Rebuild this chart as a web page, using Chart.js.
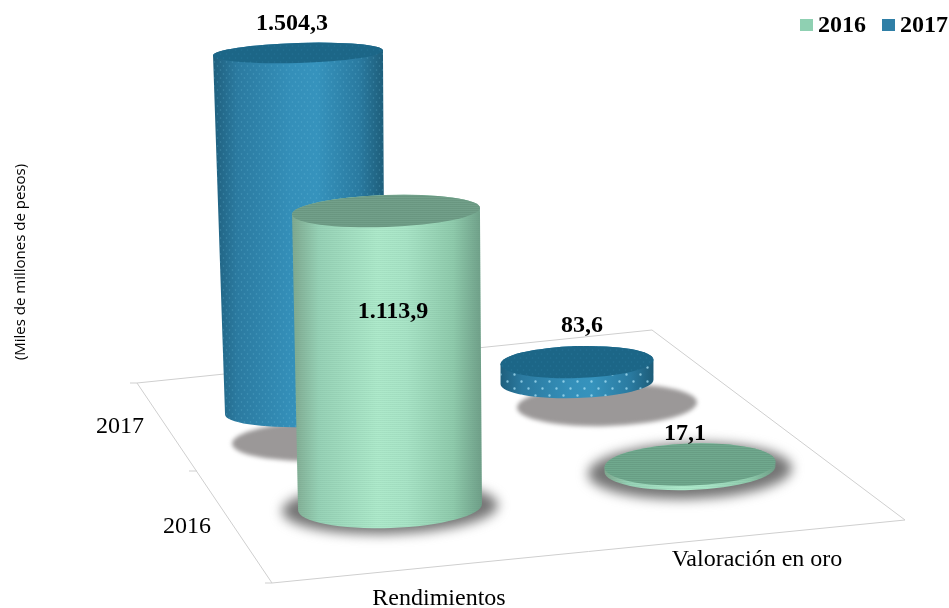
<!DOCTYPE html>
<html lang="es">
<head>
<meta charset="utf-8">
<title>Rendimientos y valoración en oro</title>
<script src="https://cdn.jsdelivr.net/npm/chart.js@4"></script>
<style>
  html, body { margin: 0; padding: 0; background: #fff; }
  canvas { display: block; }
</style>
</head>
<body>
<canvas id="myChart" width="949" height="608"></canvas>
<script>
'use strict';

let categories = ['Rendimientos', 'Valoración en oro'];
let seriesNames = ['2016', '2017'];
let values2016 = [1113.9, 17.1];
let values2017 = [1504.3, 83.6];
let depthLabels = ['2017', '2016'];
let axisTitle = '(Miles de millones de pesos)';

const WIDTH = 949;
const HEIGHT = 608;
const SERIF = '"Liberation Serif", "Times New Roman", serif';

// the floor is seen in perspective, so each series gets its own x and y axis
// originX/originY = pixel of category 0 / value 0, step = pixels per category, perUnit = pixels per unit
const view2016 = { originX: 390, step: 300, originY: 507, perUnit: 0.2657, floorTilt: -38 };
const view2017 = { originX: 305, step: 272, originY: 412, perUnit: 0.2387, floorTilt: -30 };

// cylinder shapes, one per category
const shapes2016 = [
  { rxTop: 94, rxBase: 92, ryTop: 16, ryBase: 21, lean: -4, rot: -0.035, labelX: 7, labelY: 99 },
  { rxTop: 85.5, rxBase: 85.5, ryTop: 21, ryBase: 21, lean: 0, rot: -0.035, labelX: -5, labelY: -32 }
];
const shapes2017 = [
  { rxTop: 85, rxBase: 80, ryTop: 10, ryBase: 15, lean: -7, rot: -0.03, labelX: -6, labelY: -31 },
  { rxTop: 76.5, rxBase: 76.5, ryTop: 16, ryBase: 16, lean: 0, rot: -0.03, labelX: 5, labelY: -38 }
];
const shadows2016 = [
  { dx: 0, dy: 1, rx: 108, ry: 26, color: '#757575', blur: 6 },
  { dx: 0, dy: 2, rx: 102, ry: 28, color: '#757575', blur: 6 }
];
const shadows2017 = [
  { dx: 17, dy: 29, rx: 90, ry: 20, color: '#9b9898', blur: 2 },
  { dx: 30, dy: 23, rx: 90, ry: 21, color: '#9b9898', blur: 2 }
];

const blueSide = ['#1f5f7d', '#2b7aa0', '#348fb9', '#3693bd', '#2a7aa0', '#1d5c78'];
const greenSide = ['#7fa88f', '#97d2b6', '#aeeacb', '#a9e5c7', '#8fcbac', '#6f9f88'];

function axisRange(origin, perPx, size) {
  return { min: -origin / perPx, max: (size - origin) / perPx };
}

function yAxis(view) {
  return {
    type: 'linear',
    display: false,
    min: -(HEIGHT - view.originY) / view.perUnit,
    max: view.originY / view.perUnit
  };
}

function xAxis(view) {
  let range = axisRange(view.originX, view.step, WIDTH);
  return { type: 'linear', display: false, offset: false, min: range.min, max: range.max };
}

function dotPattern(ctx, spaceX, spaceY, radius, color) {
  let tile = document.createElement('canvas');
  tile.width = spaceX;
  tile.height = spaceY * 2;
  let t = tile.getContext('2d');
  t.fillStyle = color;
  t.beginPath();
  t.arc(spaceX / 4, spaceY / 2, radius, 0, Math.PI * 2);
  t.arc(spaceX * 3 / 4, spaceY * 1.5, radius, 0, Math.PI * 2);
  t.fill();
  return ctx.createPattern(tile, 'repeat');
}

function linePattern(ctx, color) {
  let tile = document.createElement('canvas');
  tile.width = 4;
  tile.height = 2;
  let t = tile.getContext('2d');
  t.fillStyle = color;
  t.fillRect(0, 0, 4, 1);
  return ctx.createPattern(tile, 'repeat');
}

function drawCylinder(ctx, el, shape, floorShift, look) {
  let baseX = el.x;
  let baseY = el.base + floorShift;
  let topX = el.x + shape.lean;
  let topY = el.y + floorShift;
  let left = Math.min(baseX - shape.rxBase, topX - shape.rxTop);
  let right = Math.max(baseX + shape.rxBase, topX + shape.rxTop);

  let grad = ctx.createLinearGradient(left, 0, right, 0);
  let stops = [0, 0.14, 0.45, 0.6, 0.85, 1];
  stops.forEach((stop, i) => grad.addColorStop(stop, look.side[i]));

  ctx.beginPath();
  ctx.ellipse(baseX, baseY, shape.rxBase, shape.ryBase, shape.rot, Math.PI, 0, true);
  ctx.ellipse(topX, topY, shape.rxTop, shape.ryTop, shape.rot, 0, Math.PI, true);
  ctx.closePath();
  ctx.fillStyle = grad;
  ctx.fill();
  ctx.fillStyle = look.sidePattern;
  ctx.fill();

  ctx.beginPath();
  ctx.ellipse(topX, topY, shape.rxTop, shape.ryTop, shape.rot, 0, Math.PI * 2);
  ctx.fillStyle = look.top;
  ctx.fill();
  ctx.fillStyle = look.topPattern;
  ctx.fill();
}

function lookFor(ctx, datasetIndex, index) {
  if (datasetIndex === 0) {
    return {
      side: greenSide,
      top: index === 0 ? '#72a08a' : '#70a98e',
      sidePattern: linePattern(ctx, 'rgba(90, 140, 115, 0.10)'),
      topPattern: linePattern(ctx, 'rgba(60, 100, 80, 0.16)')
    };
  }
  return {
    side: blueSide,
    top: '#1c6687',
    sidePattern: index === 0 ? dotPattern(ctx, 6, 4, 0.8, 'rgba(130, 205, 235, 0.28)') : dotPattern(ctx, 14, 7, 1.2, 'rgba(170, 225, 245, 0.75)'),
    topPattern: dotPattern(ctx, 6, 4, 0.8, 'rgba(70, 150, 185, 0.22)')
  };
}

function drawLine(ctx, x1, y1, x2, y2) {
  ctx.beginPath();
  ctx.moveTo(x1, y1);
  ctx.lineTo(x2, y2);
  ctx.stroke();
}

function drawText(ctx, text, x, y, font, align) {
  ctx.font = font;
  ctx.textAlign = align || 'center';
  ctx.textBaseline = 'middle';
  ctx.fillStyle = '#000';
  ctx.fillText(text, x, y);
}

//plugin that replaces the flat bars with cylinders and draws the floor
let cylinderPlugin = {
  id: 'cylinders',
  beforeDatasetsDraw(chart) {
    let ctx = chart.ctx;
    ctx.save();
    ctx.strokeStyle = '#cfcfcf';
    ctx.lineWidth = 1;
    drawLine(ctx, 130, 383, 137, 383);
    drawLine(ctx, 137, 383, 652, 330);
    drawLine(ctx, 652, 330, 905, 520);
    drawLine(ctx, 905, 520, 272, 583);
    drawLine(ctx, 272, 583, 137, 383);
    drawLine(ctx, 189, 471, 197, 471);
    drawLine(ctx, 265, 583, 272, 583);

    // shadows lie on the floor under everything
    [[1, shadows2017, view2017], [0, shadows2016, view2016]].forEach(([datasetIndex, shadows, view]) => {
      chart.getDatasetMeta(datasetIndex).data.forEach((el, i) => {
        let s = shadows[i];
        ctx.filter = 'blur(' + s.blur + 'px)';
        ctx.beginPath();
        ctx.ellipse(el.x + s.dx, el.base + view.floorTilt * i + s.dy, s.rx, s.ry, -0.03, 0, Math.PI * 2);
        ctx.fillStyle = s.color;
        ctx.fill();
      });
    });
    ctx.restore();
  },
  beforeDatasetDraw(chart, args) {
    let ctx = chart.ctx;
    let shapes = args.index === 0 ? shapes2016 : shapes2017;
    let view = args.index === 0 ? view2016 : view2017;
    args.meta.data.forEach((el, i) => {
      drawCylinder(ctx, el, shapes[i], view.floorTilt * i, lookFor(ctx, args.index, i));
    });
    return false;
  },
  afterDatasetsDraw(chart) {
    let ctx = chart.ctx;
    ctx.save();
    let format = new Intl.NumberFormat('de-DE', { minimumFractionDigits: 1, maximumFractionDigits: 1 });
    let boldFont = 'bold 24px ' + SERIF;
    chart.data.datasets.forEach((dataset, d) => {
      let shapes = d === 0 ? shapes2016 : shapes2017;
      let view = d === 0 ? view2016 : view2017;
      chart.getDatasetMeta(d).data.forEach((el, i) => {
        let s = shapes[i];
        drawText(ctx, format.format(dataset.data[i].y), el.x + s.labelX + s.lean, el.y + view.floorTilt * i + s.labelY + 1.5, boldFont);
      });
    });

    // axis names
    let axisFont = '24px ' + SERIF;
    drawText(ctx, depthLabels[0], 120, 427, axisFont);
    drawText(ctx, depthLabels[1], 187, 527, axisFont);
    drawText(ctx, categories[0], 439, 599, axisFont);
    drawText(ctx, categories[1], 757, 560, axisFont);

    // legend
    ctx.fillStyle = '#8fd0b2';
    ctx.fillRect(800, 19, 13, 12);
    ctx.fillStyle = '#2f7fa6';
    ctx.fillRect(882, 19, 13, 12);
    drawText(ctx, seriesNames[0], 818, 26, boldFont, 'left');
    drawText(ctx, seriesNames[1], 900, 26, boldFont, 'left');

    // vertical title
    ctx.translate(21, 262);
    ctx.rotate(-Math.PI / 2);
    drawText(ctx, axisTitle, 0, 0, '15px "Open Sans", sans-serif');
    ctx.restore();
  }
};

const data = {
  datasets: [{
    label: seriesNames[0],
    data: values2016.map((value, i) => ({ x: i, y: value })),
    xAxisID: 'x2016',
    yAxisID: 'y2016',
    grouped: false,
    backgroundColor: '#a9e5c7'
  }, {
    label: seriesNames[1],
    data: values2017.map((value, i) => ({ x: i, y: value })),
    xAxisID: 'x2017',
    yAxisID: 'y2017',
    grouped: false,
    backgroundColor: '#379ac6'
  }]
};

const config = {
  type: 'bar',
  data: data,
  plugins: [cylinderPlugin],
  options: {
    responsive: false,
    animation: false,
    layout: { padding: 0 },
    plugins: { legend: { display: false }, tooltip: { enabled: false } },
    scales: {
      x2016: xAxis(view2016),
      x2017: xAxis(view2017),
      y2016: yAxis(view2016),
      y2017: yAxis(view2017)
    }
  }
};

const myChart = new Chart(document.getElementById('myChart'), config);
</script>
</body>
</html>
